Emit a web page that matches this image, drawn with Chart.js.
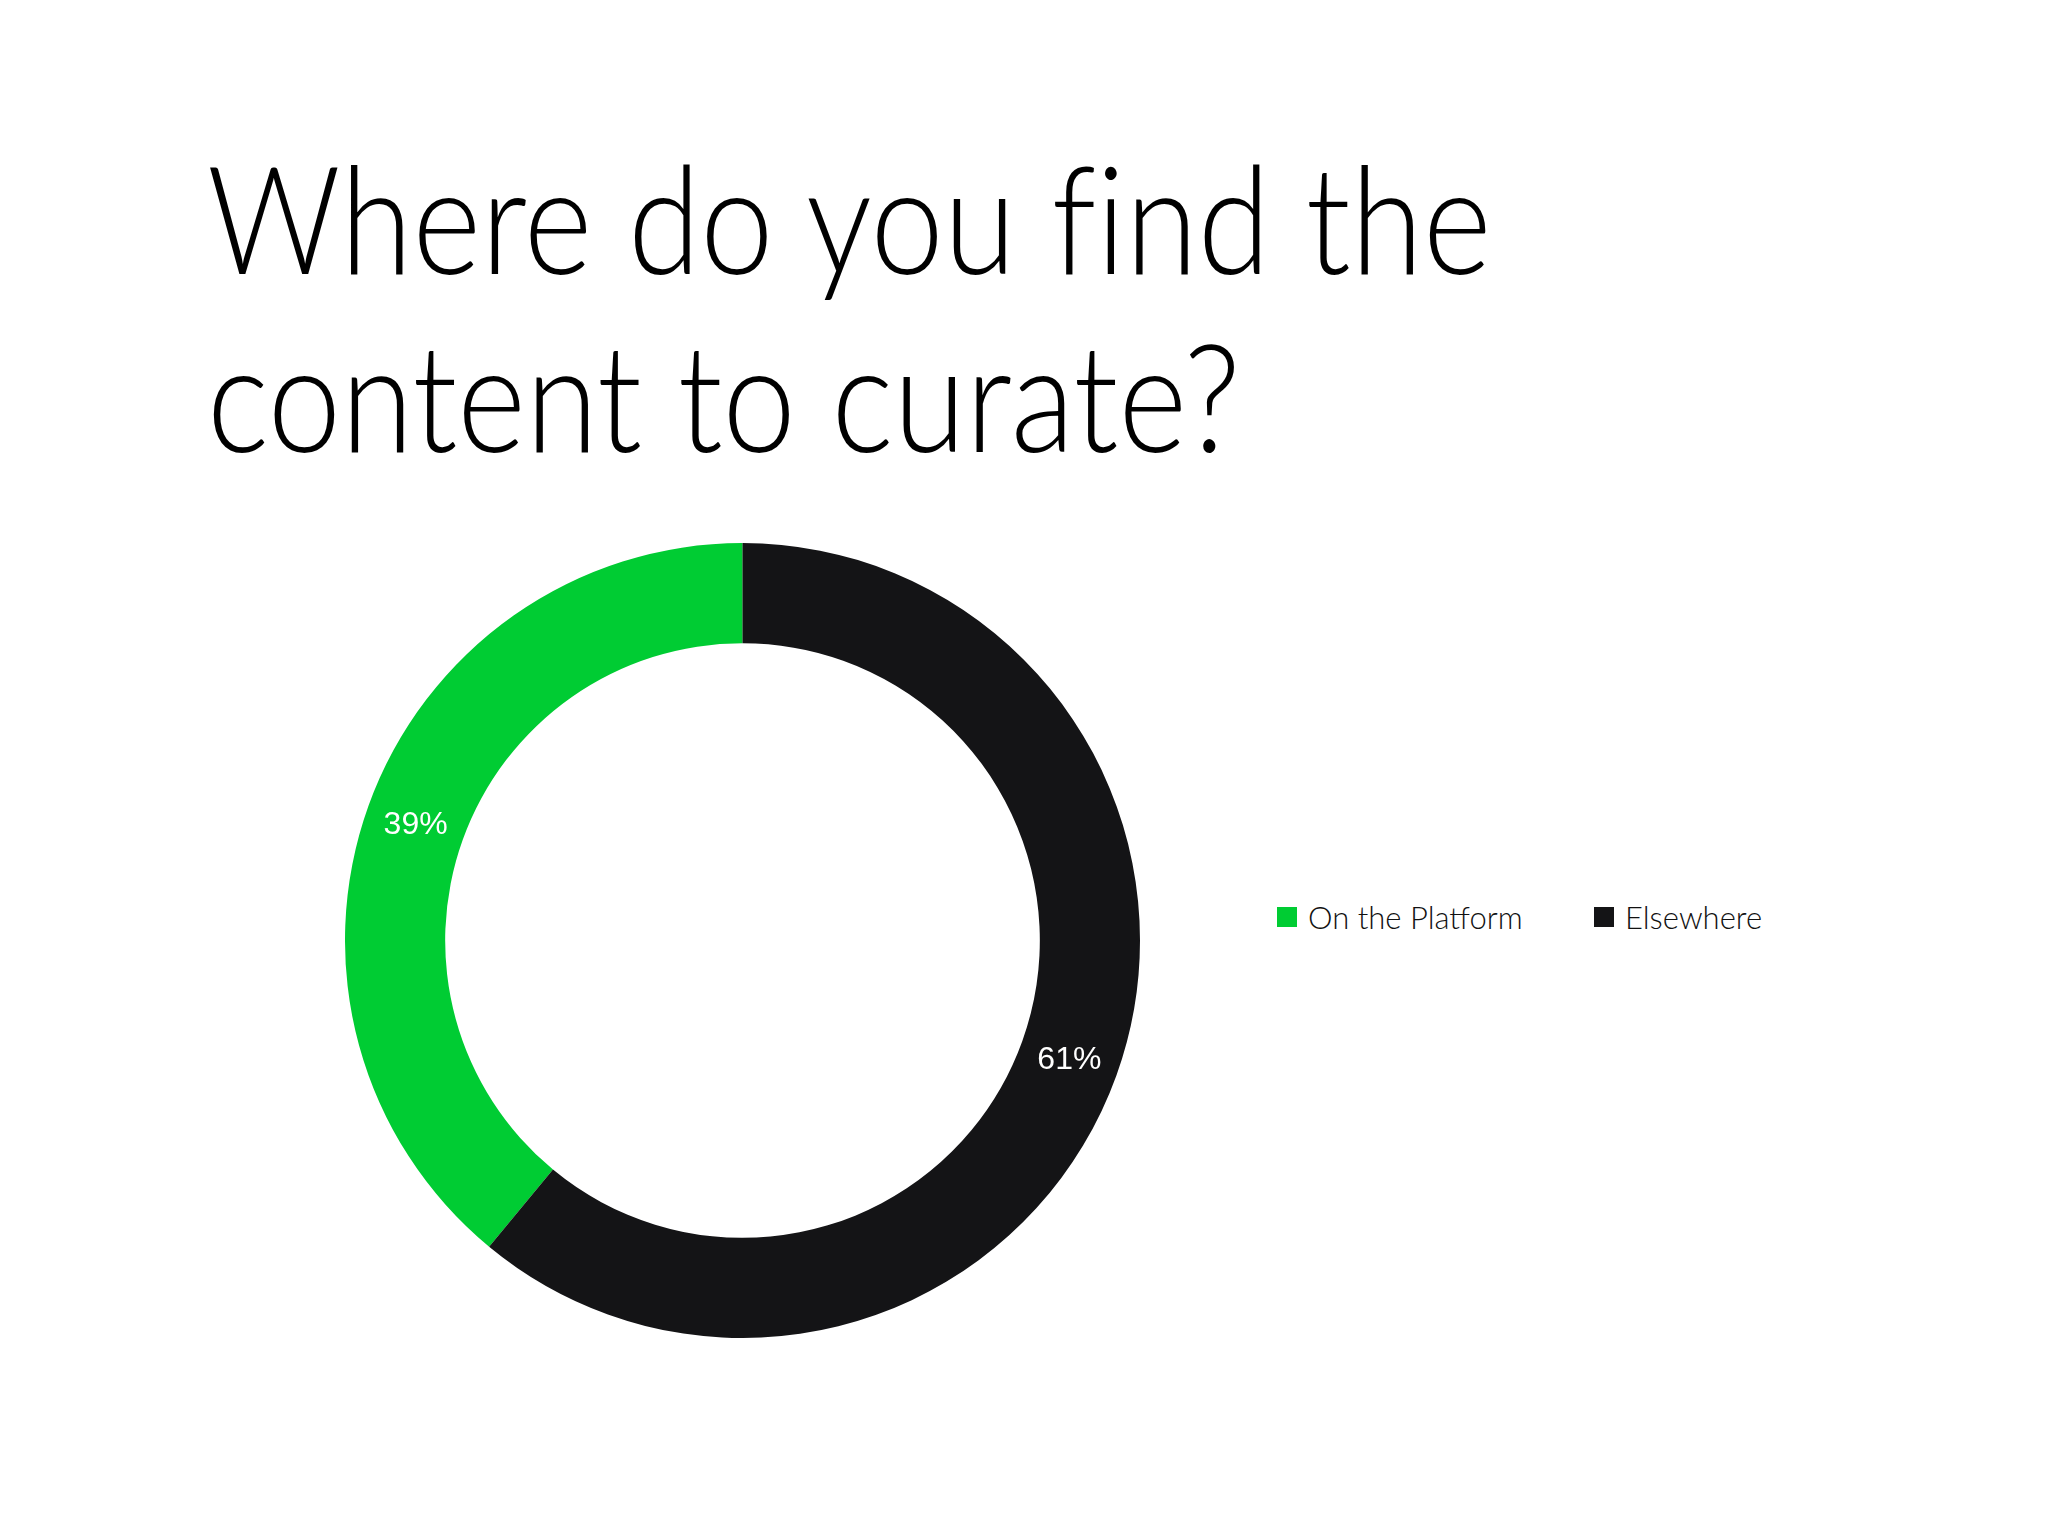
<!DOCTYPE html>
<html>
<head>
<meta charset="utf-8">
<script src="https://cdn.jsdelivr.net/npm/chart.js@4/dist/chart.umd.min.js"></script>
<style>
  html, body { margin: 0; padding: 0; background: #ffffff; }
  body { width: 2048px; height: 1532px; position: relative; overflow: hidden; }
  #title {
    position: absolute; left: 207px; top: 127px;
    font-family: "Lato", sans-serif; font-weight: 300;
    font-size: 151px; line-height: 178px; color: #000;
    white-space: nowrap; transform-origin: 0 0; transform: scaleX(0.87);
    font-variant-ligatures: none; font-feature-settings: "liga" 0;
  }
  #chartBox { position: absolute; left: 345px; top: 543px; width: 795px; height: 795px; }
  #legend {
    position: absolute; left: 1277px; top: 898px; display: flex; align-items: center;
    font-family: "Lato", sans-serif; font-weight: 300; font-size: 31px; color: #111;
  }
  .item { display: flex; align-items: center; width: 317px; }
  .sw { width: 20px; height: 20px; margin-right: 11px; flex: none; }
</style>
</head>
<body>
<div id="title"><div>Where do you find the</div><div>content to curate?</div></div>
<div id="chartBox"><canvas id="c"></canvas></div>
<div id="legend"></div>
<script>
const categories = ["On the Platform", "Elsewhere"];
const values = [39, 61];
const colors = ["#00CC33", "#141416"];

const total = values.reduce((a, b) => a + b, 0);

const labelPlugin = {
  id: 'sliceLabels',
  afterDatasetsDraw(chart) {
    const ctx = chart.ctx;
    const meta = chart.getDatasetMeta(0);
    ctx.save();
    ctx.fillStyle = '#ffffff';
    ctx.font = '32px "Liberation Sans", Arial, sans-serif';
    ctx.textAlign = 'center';
    ctx.textBaseline = 'middle';
    meta.data.forEach((arc, i) => {
      const p = arc.tooltipPosition();
      ctx.fillText(Math.round(values[i] / total * 100) + '%', p.x, p.y + 2);
    });
    ctx.restore();
  }
};

const chart = new Chart(document.getElementById('c'), {
  type: 'doughnut',
  data: {
    labels: categories,
    datasets: [{
      data: values,
      backgroundColor: colors,
      borderWidth: 0,
      hoverOffset: 0
    }]
  },
  options: {
    responsive: true,
    maintainAspectRatio: false,
    animation: false,
    cutout: '74.8%',
    rotation: -(values[0] / total) * 360,
    layout: { padding: 0 },
    plugins: {
      legend: { display: false },
      tooltip: { enabled: false },
      title: { display: false }
    }
  },
  plugins: [labelPlugin]
});

const legend = document.getElementById('legend');
categories.forEach((c, i) => {
  const item = document.createElement('div');
  item.className = 'item';
  const sw = document.createElement('span');
  sw.className = 'sw';
  sw.style.background = colors[i];
  const t = document.createElement('span');
  t.textContent = c;
  item.appendChild(sw);
  item.appendChild(t);
  legend.appendChild(item);
});
</script>
</body>
</html>
